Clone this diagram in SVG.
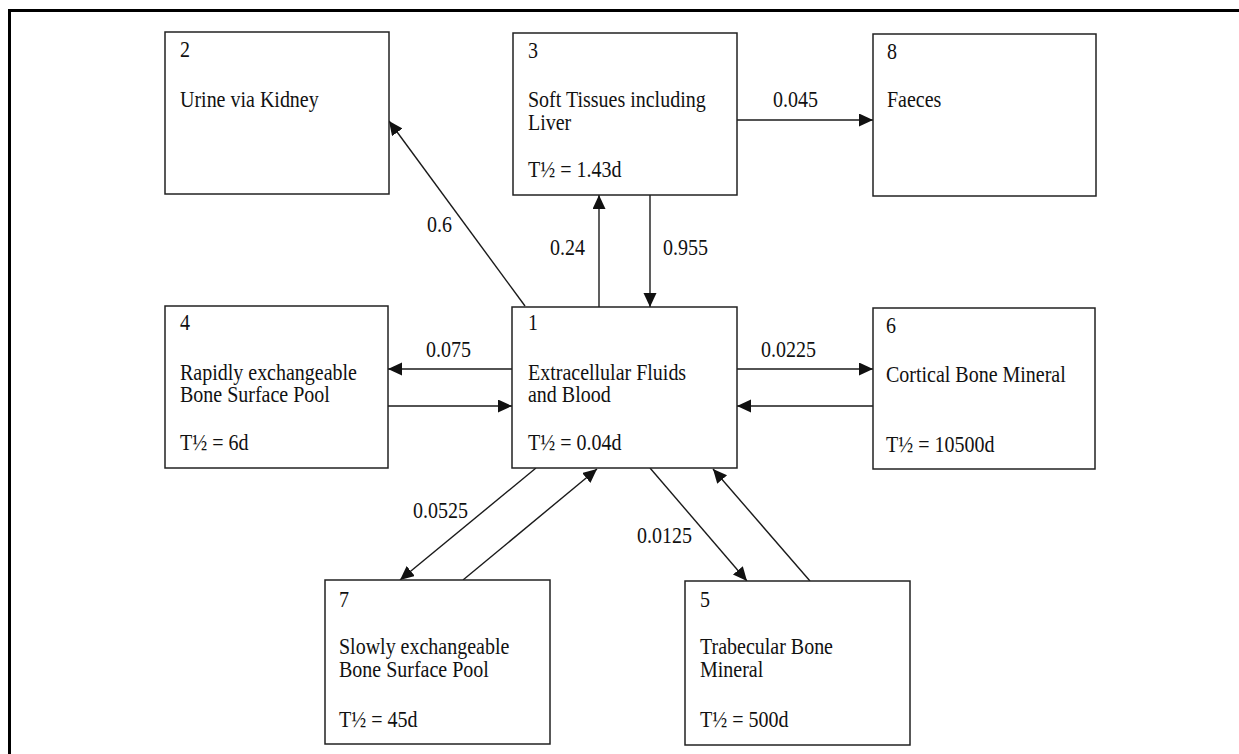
<svg xmlns="http://www.w3.org/2000/svg" width="1239" height="754" viewBox="0 0 1239 754">
<style>
.box{fill:#fff;stroke:#222;stroke-width:1.5}
.t{font-family:"Liberation Serif","Times New Roman",serif;font-size:20px;fill:#111}
.c{stroke:#1a1a1a;stroke-width:1.4;fill:none}
.a{marker-end:url(#ah)}
</style>
<defs>
<marker id="ah" markerUnits="userSpaceOnUse" markerWidth="15" markerHeight="14" refX="14" refY="6.5" orient="auto">
<path d="M0,0 L14,6.5 L0,13 z" fill="#111"/>
</marker>
</defs>
<rect x="0" y="0" width="1239" height="754" fill="#fff"/>
<path d="M9.5,760 V10.5 H1245" fill="none" stroke="#000" stroke-width="3"/>
<g id="connectors">
<line class="c a" x1="525" y1="306" x2="389" y2="121"/>
<line class="c a" x1="599" y1="307" x2="599" y2="195"/>
<line class="c a" x1="650" y1="195" x2="650" y2="307"/>
<line class="c a" x1="737" y1="120" x2="873" y2="120"/>
<line class="c a" x1="512" y1="369" x2="388" y2="369"/>
<line class="c a" x1="388" y1="406" x2="512" y2="406"/>
<line class="c a" x1="737" y1="369" x2="873" y2="369"/>
<line class="c a" x1="873" y1="406" x2="737" y2="406"/>
<line class="c a" x1="536" y1="468" x2="400" y2="580"/>
<line class="c a" x1="463" y1="580" x2="597" y2="469"/>
<line class="c a" x1="650" y1="468" x2="747" y2="581"/>
<line class="c a" x1="810" y1="581" x2="713" y2="469"/>
<text class="t" x="427" y="232" transform="matrix(1 0 0 1.16 0 -37.12)">0.6</text>
<text class="t" x="550" y="255" transform="matrix(1 0 0 1.16 0 -40.8)">0.24</text>
<text class="t" x="663" y="255" transform="matrix(1 0 0 1.16 0 -40.8)">0.955</text>
<text class="t" x="773" y="107" transform="matrix(1 0 0 1.16 0 -17.12)">0.045</text>
<text class="t" x="426" y="357" transform="matrix(1 0 0 1.16 0 -57.12)">0.075</text>
<text class="t" x="761" y="357" transform="matrix(1 0 0 1.16 0 -57.12)">0.0225</text>
<text class="t" x="413" y="518" transform="matrix(1 0 0 1.16 0 -82.88)">0.0525</text>
<text class="t" x="637" y="543" transform="matrix(1 0 0 1.16 0 -86.88)">0.0125</text>
</g>
<g id="node2">
<rect class="box" x="165" y="32" width="224" height="162"/>
<text class="t" x="180" y="57" transform="matrix(1 0 0 1.16 0 -9.12)">2</text>
<text class="t" x="180" y="107" transform="matrix(1 0 0 1.16 0 -17.12)">Urine via Kidney</text>
</g>
<g id="node3">
<rect class="box" x="513" y="33" width="224" height="162"/>
<text class="t" x="528" y="58" transform="matrix(1 0 0 1.16 0 -9.28)">3</text>
<text class="t" x="528" y="107" transform="matrix(1 0 0 1.16 0 -17.12)">Soft Tissues including</text>
<text class="t" x="528" y="130" transform="matrix(1 0 0 1.16 0 -20.8)">Liver</text>
<text class="t" x="528" y="177" transform="matrix(1 0 0 1.16 0 -28.32)">T½ = 1.43d</text>
</g>
<g id="node8">
<rect class="box" x="873" y="34" width="223" height="162"/>
<text class="t" x="887" y="59" transform="matrix(1 0 0 1.16 0 -9.44)">8</text>
<text class="t" x="887" y="107" transform="matrix(1 0 0 1.16 0 -17.12)">Faeces</text>
</g>
<g id="node4">
<rect class="box" x="165" y="306" width="223" height="162"/>
<text class="t" x="180" y="330" transform="matrix(1 0 0 1.16 0 -52.8)">4</text>
<text class="t" x="180" y="380" transform="matrix(1 0 0 1.16 0 -60.8)">Rapidly exchangeable</text>
<text class="t" x="180" y="402" transform="matrix(1 0 0 1.16 0 -64.32)">Bone Surface Pool</text>
<text class="t" x="180" y="450" transform="matrix(1 0 0 1.16 0 -72)">T½ = 6d</text>
</g>
<g id="node1">
<rect class="box" x="512" y="307" width="225" height="161"/>
<text class="t" x="528" y="330" transform="matrix(1 0 0 1.16 0 -52.8)">1</text>
<text class="t" x="528" y="380" transform="matrix(1 0 0 1.16 0 -60.8)">Extracellular Fluids</text>
<text class="t" x="528" y="402" transform="matrix(1 0 0 1.16 0 -64.32)">and Blood</text>
<text class="t" x="528" y="450" transform="matrix(1 0 0 1.16 0 -72)">T½ = 0.04d</text>
</g>
<g id="node6">
<rect class="box" x="873" y="308" width="222" height="161"/>
<text class="t" x="886" y="333" transform="matrix(1 0 0 1.16 0 -53.28)">6</text>
<text class="t" x="886" y="382" transform="matrix(1 0 0 1.16 0 -61.12)">Cortical Bone Mineral</text>
<text class="t" x="886" y="452" transform="matrix(1 0 0 1.16 0 -72.32)">T½ = 10500d</text>
</g>
<g id="node7">
<rect class="box" x="325" y="580" width="225" height="164"/>
<text class="t" x="339" y="607" transform="matrix(1 0 0 1.16 0 -97.12)">7</text>
<text class="t" x="339" y="654" transform="matrix(1 0 0 1.16 0 -104.64)">Slowly exchangeable</text>
<text class="t" x="339" y="677" transform="matrix(1 0 0 1.16 0 -108.32)">Bone Surface Pool</text>
<text class="t" x="339" y="727" transform="matrix(1 0 0 1.16 0 -116.32)">T½ = 45d</text>
</g>
<g id="node5">
<rect class="box" x="685" y="581" width="225" height="164"/>
<text class="t" x="700" y="607" transform="matrix(1 0 0 1.16 0 -97.12)">5</text>
<text class="t" x="700" y="654" transform="matrix(1 0 0 1.16 0 -104.64)">Trabecular Bone</text>
<text class="t" x="700" y="677" transform="matrix(1 0 0 1.16 0 -108.32)">Mineral</text>
<text class="t" x="700" y="727" transform="matrix(1 0 0 1.16 0 -116.32)">T½ = 500d</text>
</g>
</svg>
